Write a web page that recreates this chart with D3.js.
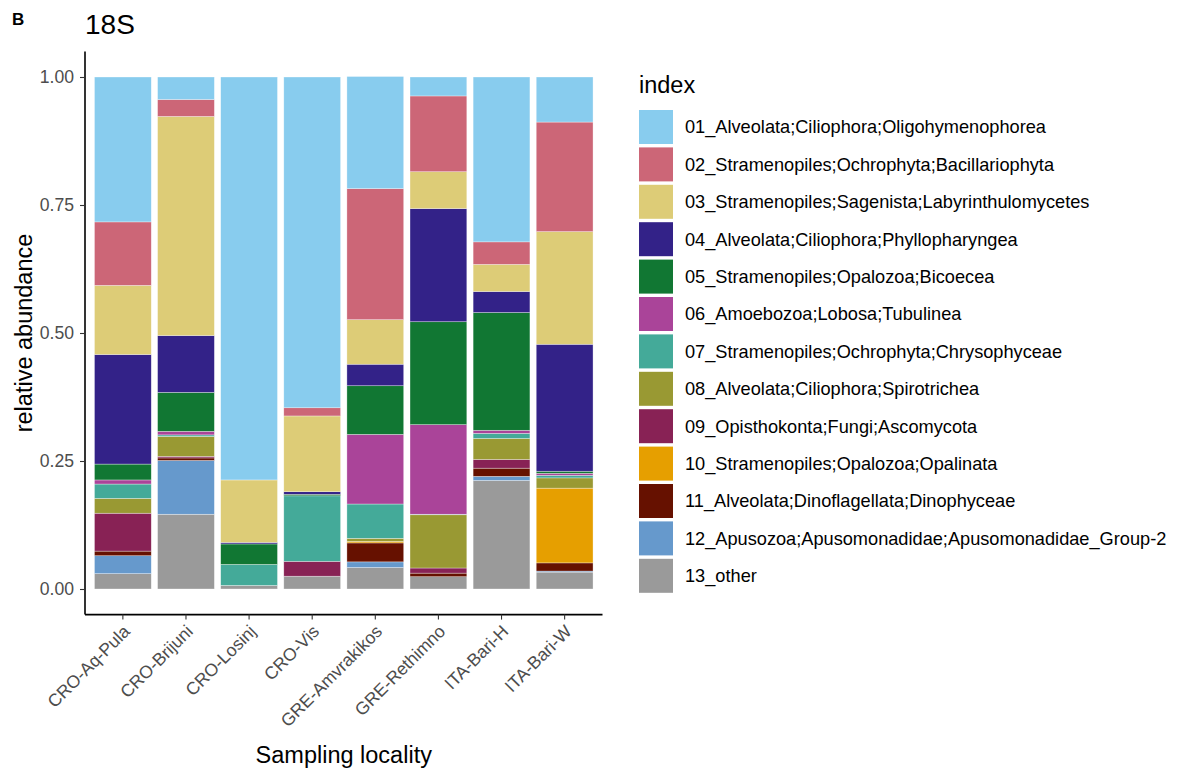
<!DOCTYPE html>
<html>
<head>
<meta charset="utf-8">
<script src="https://cdn.jsdelivr.net/npm/d3@7"></script>
<style>
body{margin:0;background:#fff;}
text{font-family:"Liberation Sans",Arial,sans-serif;}
</style>
</head>
<body>
<svg id="chart" width="1202" height="769"></svg>
<script>
const localities = ["CRO-Aq-Pula","CRO-Brijuni","CRO-Losinj","CRO-Vis","GRE-Amvrakikos","GRE-Rethimno","ITA-Bari-H","ITA-Bari-W"];
const taxa = [
  "01_Alveolata;Ciliophora;Oligohymenophorea",
  "02_Stramenopiles;Ochrophyta;Bacillariophyta",
  "03_Stramenopiles;Sagenista;Labyrinthulomycetes",
  "04_Alveolata;Ciliophora;Phyllopharyngea",
  "05_Stramenopiles;Opalozoa;Bicoecea",
  "06_Amoebozoa;Lobosa;Tubulinea",
  "07_Stramenopiles;Ochrophyta;Chrysophyceae",
  "08_Alveolata;Ciliophora;Spirotrichea",
  "09_Opisthokonta;Fungi;Ascomycota",
  "10_Stramenopiles;Opalozoa;Opalinata",
  "11_Alveolata;Dinoflagellata;Dinophyceae",
  "12_Apusozoa;Apusomonadidae;Apusomonadidae_Group-2",
  "13_other"
];
const taxaColors = ["#88CCEE","#CC6677","#DDCC77","#332288","#117733","#AA4499","#44AA99","#999933","#882255","#E69F00","#661100","#6699CC","#9A9A9A"];
// relative abundance per locality, in taxa order 01..13
const aqPula    = [0.283,0.124,0.135,0.214,0.031,0.008,0.028,0.029,0.074,0.000,0.009,0.035,0.030];
const brijuni   = [0.044,0.033,0.428,0.111,0.076,0.007,0.003,0.039,0.003,0.000,0.005,0.105,0.146];
const losinj    = [0.787,0.000,0.122,0.003,0.040,0.000,0.041,0.000,0.000,0.000,0.000,0.000,0.007];
const vis       = [0.646,0.016,0.148,0.005,0.003,0.000,0.128,0.000,0.029,0.000,0.000,0.000,0.025];
const amvrakikos= [0.219,0.256,0.087,0.042,0.095,0.136,0.067,0.006,0.000,0.003,0.037,0.011,0.042];
const rethimno  = [0.037,0.148,0.072,0.221,0.201,0.175,0.001,0.104,0.010,0.000,0.007,0.000,0.024];
const bariH     = [0.322,0.044,0.053,0.041,0.230,0.006,0.010,0.041,0.017,0.000,0.016,0.008,0.212];
const bariW     = [0.088,0.214,0.220,0.248,0.004,0.004,0.005,0.020,0.000,0.146,0.016,0.002,0.033];
const abundance = [aqPula,brijuni,losinj,vis,amvrakikos,rethimno,bariH,bariW];
const yTicks = [0,0.25,0.5,0.75,1.0];

const svg = d3.select("#chart");
const panel = {left:85, right:602.5, top:51.4, bottom:614.6};
const FONT = "Liberation Sans, Arial, sans-serif";

const x = d3.scaleBand().domain(localities).range([panel.left, panel.right]).paddingInner(0.1).paddingOuter(0.15);
const y = d3.scaleLinear().domain([-0.05,1.05]).range([panel.bottom, panel.top]);

// build stacked data: bottom = 13_other, top = 01
const rows = localities.map((loc,i)=>{ const r={loc}; taxa.forEach((t,j)=>r[t]=abundance[i][j]); return r; });
const stackKeys = taxa.slice().reverse();
const series = d3.stack().keys(stackKeys)(rows);
const color = d3.scaleOrdinal().domain(taxa).range(taxaColors);

const g = svg.append("g");
series.forEach(s=>{
  g.selectAll(null).data(s).join("rect")
    .attr("x", d=>x(d.data.loc))
    .attr("width", x.bandwidth())
    .attr("y", d=>y(d[1]))
    .attr("height", d=>Math.max(0, y(d[0])-y(d[1])))
    .attr("fill", color(s.key))
    .attr("stroke", "rgba(255,255,255,0.55)")
    .attr("stroke-width", 0.6);
});

// axes
const yAxis = d3.axisLeft(y).tickValues(yTicks).tickFormat(d3.format(".2f")).tickSize(5).tickPadding(6);
const ya = svg.append("g").attr("transform",`translate(${panel.left},0)`).call(yAxis);
ya.select(".domain").attr("d",`M0,${panel.top}V${panel.bottom}`).attr("stroke","#000").attr("stroke-width",1.6);
ya.selectAll(".tick line").attr("stroke","#333").attr("stroke-width",1.1);
ya.selectAll(".tick text").attr("font-size",17.6).attr("fill","#4D4D4D").attr("font-family",FONT);

const xAxis = d3.axisBottom(x).tickSize(5).tickPadding(0);
const xa = svg.append("g").attr("transform",`translate(0,${panel.bottom})`).call(xAxis);
xa.select(".domain").attr("d",`M${panel.left},0H${panel.right}`).attr("stroke","#000").attr("stroke-width",1.6);
xa.selectAll(".tick line").attr("stroke","#333").attr("stroke-width",1.1);
xa.selectAll(".tick text")
  .attr("font-size",17.6).attr("fill","#4D4D4D").attr("font-family",FONT)
  .attr("text-anchor","end").attr("dy",null).attr("y",null)
  .attr("transform","translate(8,18) rotate(-45)");

// titles
svg.append("text").attr("x",12).attr("y",25).attr("font-size",17).attr("font-weight","bold").text("B");
svg.append("text").attr("x",85).attr("y",34).attr("font-size",28).text("18S");
svg.append("text").attr("transform",`translate(32,${(panel.top+panel.bottom)/2}) rotate(-90)`)
  .attr("text-anchor","middle").attr("font-size",23.5).text("relative abundance");
svg.append("text").attr("x",(panel.left+panel.right)/2).attr("y",763)
  .attr("text-anchor","middle").attr("font-size",23.5).text("Sampling locality");

// legend
const lg = svg.append("g").attr("transform","translate(639,0)");
lg.append("text").attr("x",0).attr("y",93).attr("font-size",23.5).text("index");
taxa.forEach((t,i)=>{
  const ty = 110 + i*37.4;
  lg.append("rect").attr("x",0).attr("y",ty).attr("width",34).attr("height",34).attr("fill",color(t));
  lg.append("text").attr("x",46).attr("y",ty+17).attr("dy","0.35em").attr("font-size",18.2).text(t);
});
</script>
</body>
</html>
